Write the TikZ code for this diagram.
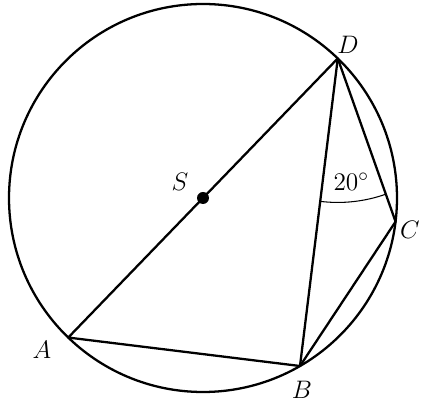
\documentclass[tikz,border=0pt]{standalone}
\usepackage{amsmath}
\usepackage{tikz}
\usetikzlibrary{angles,quotes,calc}
\tikzstyle{geo}=[line width=1.3pt,line join=round]
\tikzstyle{lbl}=[inner sep=0pt,font=\fontsize{15}{18}\selectfont]
\tikzstyle{dot}=[circle,fill=black,inner sep=0pt,minimum size=0.24cm]
\begin{document}
\begin{tikzpicture}
    \useasboundingbox (0,0) rectangle (8.48,8.2);
    \coordinate (S) at (4.06,4.24);
    \coordinate (D) at ($(S)+(46:3.88)$);
    \coordinate (A) at ($(S)+(226:3.88)$);
    \coordinate (B) at ($(S)+(-60:3.88)$);
    \coordinate (C) at ($(S)+(-7:3.88)$);
    \draw[geo] (S) circle (3.88);
    \draw[geo] (A) -- (D) -- (B) -- cycle;
    \draw[geo] (D) -- (C) -- (B);
    \pic[draw,line width=0.6pt,angle radius=2.88cm,angle eccentricity=0.86,"$20^\circ$",pic text options={lbl}] {angle=B--D--C};
    \node[dot] (Sdot) at (S) {};
    \node[lbl] (labS) at (3.6,4.56) {$S$};
    \node[lbl] (labD) at (6.96,7.3) {$D$};
    \node[lbl] (labC) at (8.2,3.6) {$C$};
    \node[lbl] (labA) at (0.84,1.2) {$A$};
    \node[lbl] (labB) at (6.04,0.4) {$B$};
  \end{tikzpicture}
\end{document}
